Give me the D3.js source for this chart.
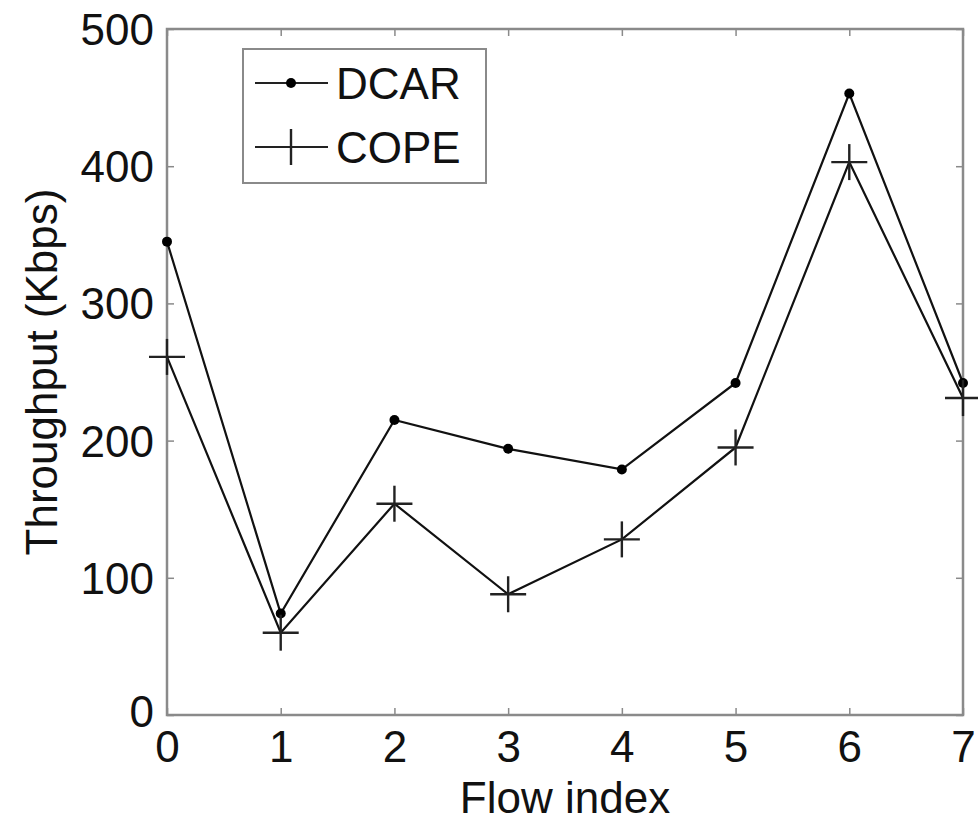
<!DOCTYPE html>
<html><head><meta charset="utf-8">
<script src="https://cdn.jsdelivr.net/npm/d3@7"></script>
<style>body{margin:0;background:#fff;} svg{display:block;} text{font-family:"Liberation Sans",Arial,sans-serif;}</style>
</head><body>
<script>
const flowIndex = [0,1,2,3,4,5,6,7];
const dcar = [345, 74, 215, 194, 179, 242, 453, 242];
const cope = [261, 60, 154, 88, 128, 195, 403, 231];
const yTicks = [0,100,200,300,400,500];
const seriesNames = ["DCAR","COPE"];

const W=978,H=822;
const m={left:167,right:15,top:29,bottom:107};
const svg=d3.select("body").append("svg").attr("width",W).attr("height",H);
const x=d3.scaleLinear().domain([0,7]).range([m.left,W-m.right]);
const y=d3.scaleLinear().domain([0,500]).range([H-m.bottom,m.top]);
const axisCol="#8a8a8a";

// box
svg.append("rect").attr("x",x(0)).attr("y",y(500)).attr("width",x(7)-x(0)).attr("height",y(0)-y(500))
  .attr("fill","none").attr("stroke",axisCol).attr("stroke-width",2.5);

// axes with inward ticks
const fs=44;
const xb=svg.append("g").attr("transform",`translate(0,${y(0)})`)
  .call(d3.axisBottom(x).tickValues(flowIndex).tickSize(-7).tickPadding(16).tickFormat(d3.format("d")));
const xt=svg.append("g").attr("transform",`translate(0,${y(500)})`)
  .call(d3.axisTop(x).tickValues(flowIndex).tickSize(-7).tickFormat(""));
const yl=svg.append("g").attr("transform",`translate(${x(0)},0)`)
  .call(d3.axisLeft(y).tickValues(yTicks).tickSize(-7).tickPadding(13).tickFormat(d3.format("d")));
const yr=svg.append("g").attr("transform",`translate(${x(7)},0)`)
  .call(d3.axisRight(y).tickValues(yTicks).tickSize(-7).tickFormat(""));
[xb,xt,yl,yr].forEach(g=>{
  g.select(".domain").remove();
  g.selectAll(".tick line").attr("stroke",axisCol).attr("stroke-width",1.5);
  g.selectAll("text").attr("font-size",fs).attr("fill","#111").style("font-family","Liberation Sans, Arial, sans-serif");
});
xb.selectAll("text").attr("dy","0.71em");
yl.selectAll("text").attr("dy","0.35em");
// "0" y label sits slightly lower in the original
yl.selectAll(".tick").filter(d=>d===0).select("text").attr("dy","0.25em");

// axis titles
svg.append("text").attr("x",(x(0)+x(7))/2).attr("y",813).attr("text-anchor","middle")
  .attr("font-size",fs).attr("fill","#111").text("Flow index");
svg.append("text").attr("transform",`translate(57,${(y(0)+y(500))/2}) rotate(-90)`)
  .attr("text-anchor","middle").attr("font-size",fs).attr("fill","#111").text("Throughput (Kbps)");

// lines
const line=d3.line().x((d,i)=>x(flowIndex[i])).y(d=>y(d));
[dcar,cope].forEach(s=>{
  svg.append("path").datum(s).attr("d",line).attr("fill","none").attr("stroke","#111").attr("stroke-width",2.2);
});
// markers
svg.selectAll(".dot").data(dcar).enter().append("circle")
  .attr("cx",(d,i)=>x(flowIndex[i])).attr("cy",d=>y(d)).attr("r",5).attr("fill","#000");
const ph=18;
const plus=svg.selectAll(".plus").data(cope).enter().append("g")
  .attr("transform",(d,i)=>`translate(${x(flowIndex[i])},${y(d)})`);
plus.append("line").attr("x1",-ph).attr("x2",ph).attr("stroke","#222").attr("stroke-width",2.4);
plus.append("line").attr("y1",-ph).attr("y2",ph).attr("stroke","#222").attr("stroke-width",2.4);

// legend
const lg=svg.append("g");
lg.append("rect").attr("x",243).attr("y",49).attr("width",243).attr("height",134)
  .attr("fill","#fff").attr("stroke",axisCol).attr("stroke-width",2);
const rows=[83,147];
rows.forEach((ry,i)=>{
  lg.append("line").attr("x1",255).attr("x2",328).attr("y1",ry).attr("y2",ry).attr("stroke","#222").attr("stroke-width",2.2);
  if(i===0) lg.append("circle").attr("cx",291).attr("cy",ry).attr("r",5).attr("fill","#000");
  else {
    lg.append("line").attr("x1",291).attr("x2",291).attr("y1",ry-ph).attr("y2",ry+ph).attr("stroke","#222").attr("stroke-width",2.4);
  }
  lg.append("text").attr("x",336).attr("y",ry).attr("dy","0.36em").attr("font-size",fs).attr("fill","#111").text(seriesNames[i]);
});
</script>
</body></html>
